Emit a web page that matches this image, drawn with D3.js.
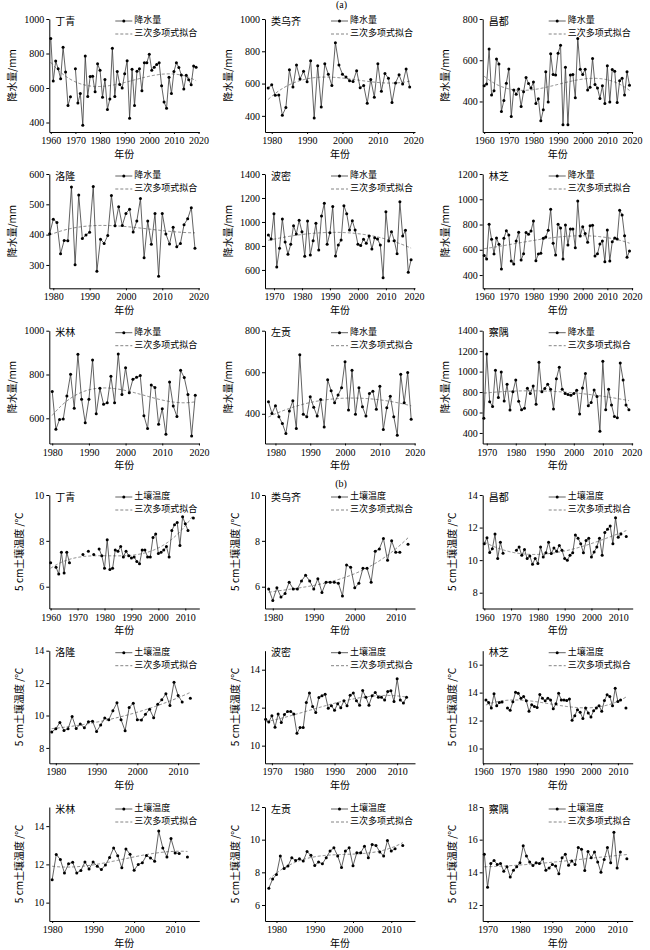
<!DOCTYPE html>
<html><head><meta charset="utf-8">
<script src="https://cdn.jsdelivr.net/npm/d3@7/dist/d3.min.js"></script>
<style>body{margin:0;background:#fff}</style></head>
<body><svg id="c" width="650" height="950"></svg>
<script>
// ---------- DATA ----------
const stations = ["丁青","类乌齐","昌都","洛隆","波密","林芝","米林","左贡","察隅"];
// (a) annual precipitation, mm
const precipStart = [1960,1979,1960,1979,1968,1960,1980,1978,1969];
const pDingqing = [887,640,756,711,654,836,693,498,549,null,711,513,568,384,785,551,666,668,578,740,703,547,650,476,537,830,551,695,621,600,683,758,425,709,498,697,711,584,746,746,795,703,721,736,746,613,519,482,662,568,695,746,719,676,594,674,648,619,728,721];
const pLeiwuqi = [572,592,527,529,404,451,685,578,715,629,676,611,742,386,711,455,723,658,588,853,715,658,640,617,613,680,574,588,478,625,516,723,553,662,633,482,604,654,597,691,578];
const pChangdu = [476,485,655,432,452,606,582,352,405,489,558,327,456,435,460,376,447,516,487,465,494,390,413,306,360,544,398,631,531,529,634,673,287,566,287,529,531,418,706,556,531,556,456,469,608,482,465,415,476,390,573,397,555,547,395,500,513,431,544,479];
const pLuolong = [403,451,440,337,381,380,557,301,531,387,399,408,559,279,385,371,397,529,429,492,430,470,484,409,445,519,324,445,368,470,263,470,402,369,424,360,371,433,452,489,355];
const pBomi = [892,858,1069,625,781,1025,833,731,814,969,900,1014,919,714,1008,725,844,989,767,1050,1156,814,910,1128,717,808,850,1136,1069,933,1011,933,814,803,856,822,883,775,869,858,808,536,1086,842,919,844,736,1169,883,931,581,686];
const pLinzhi = [554,527,802,683,567,693,643,448,691,751,717,511,488,670,738,519,569,736,722,749,828,514,567,572,691,701,754,920,651,559,802,773,527,796,638,765,765,617,986,709,783,728,659,791,794,551,569,646,670,506,757,511,664,693,685,912,875,712,540,590];
const pMilin = [722,550,595,597,702,801,646,892,687,580,687,866,621,737,664,671,792,671,894,709,831,717,778,787,795,612,553,752,741,573,644,527,766,656,608,819,786,709,519,705];
const pZuogong = [458,402,439,386,353,305,414,463,329,684,398,386,482,431,389,469,337,564,511,453,490,525,651,418,610,398,525,434,389,498,509,422,533,324,429,485,386,297,590,453,599,374];
const pChayu = [545,1172,705,660,1014,747,995,712,876,625,802,918,709,628,641,837,786,860,680,1091,802,834,876,828,635,931,1043,828,786,776,770,786,818,586,840,982,667,699,821,757,416,1101,628,828,673,561,548,1085,918,673,628];
// (b) 5 cm soil temperature, °C
const soilStart = [1960,1979,1960,1979,1968,1961,1980,1978,1969];
const tDingqing = [7.05,null,6.85,6.55,7.5,6.6,7.5,7.05,null,null,null,null,7.4,null,7.55,null,7.4,null,7.65,7.35,6.8,8.05,6.75,6.8,7.6,7.55,7.75,7.3,7.55,7.35,7.25,7.3,7.1,7.0,7.6,7.6,7.3,7.3,8.15,8.3,7.45,7.5,7.6,7.75,7.3,8.45,8.7,8.8,7.8,9.05,8.75,8.45,null,9.0];
const tLeiwuqi = [5.9,5.4,5.95,5.55,5.7,6.2,5.9,5.9,6.25,6.5,6.25,5.9,6.35,5.75,6.2,6.2,6.2,6.15,5.6,6.95,6.85,5.95,6.15,6.8,6.8,6.2,7.55,7.65,8.1,7.15,8.0,7.5,7.5,null,7.85];
const tChangdu = [11.0,11.38,10.47,10.7,11.6,10.1,11.1,10.43,null,null,null,null,10.6,10.8,10.3,10.65,10.1,10.25,9.75,10.1,9.8,10.8,10.2,10.45,11.1,10.4,10.75,10.55,10.9,10.6,10.1,10.0,10.3,10.45,11.55,11.35,11.0,10.45,11.2,11.35,10.2,10.5,10.8,11.35,10.3,11.7,11.9,12.1,11.0,12.6,11.4,11.6,null,11.45];
const tLuolong = [8.98,9.18,9.57,9.08,9.18,9.94,9.2,9.47,9.25,9.61,9.65,9.02,9.41,9.84,9.74,10.29,10.78,9.74,9.06,10.5,10.76,9.74,9.72,10.07,10.39,9.86,10.7,10.97,11.34,10.62,12.05,11.23,10.84,null,11.07];
const tBomi = [11.39,11.25,11.57,10.97,11.67,11.22,11.64,11.8,11.8,11.67,10.65,10.95,10.95,12.27,12.77,12.06,11.74,12.54,12.63,12.7,11.97,12.1,11.86,12.2,12.0,12.36,12.1,12.66,12.77,12.36,12.13,12.9,12.55,12.13,12.63,12.8,12.55,12.55,12.4,12.85,12.89,12.33,13.52,12.4,12.24,12.55];
const tLinzhi = [13.48,13.29,12.89,13.91,13.06,13.29,13.32,null,12.89,12.73,13.34,14.02,13.95,13.6,13.72,13.41,12.66,13.13,13.01,12.94,13.86,13.6,13.41,13.6,13.48,12.85,13.2,13.95,13.48,13.48,13.44,13.55,12.02,12.35,12.78,12.59,12.14,12.89,12.54,12.26,12.71,12.89,13.06,12.66,13.44,13.84,13.72,13.06,14.31,13.36,13.48,null,12.89];
const tMilin = [11.2,12.52,12.25,11.55,12.03,12.11,11.55,11.68,12.13,11.76,12.13,11.9,11.73,11.97,12.36,12.86,12.45,11.82,12.81,12.53,11.69,12.0,12.08,12.46,12.34,12.17,13.74,12.86,12.39,13.35,12.6,12.57,null,12.39];
const tZuogong = [7.03,7.59,7.86,9.0,8.23,8.38,8.9,8.73,8.83,8.69,9.27,9.04,8.42,8.63,8.52,8.9,9.3,9.5,9.0,8.3,9.3,9.5,8.4,9.2,9.2,9.6,8.9,9.7,9.65,9.25,9.0,9.95,9.3,9.45,null,9.65];
const tChayu = [15.1,13.09,14.54,14.73,14.48,14.54,14.07,14.34,13.71,14.13,14.34,14.58,15.62,15.0,14.63,14.42,14.58,14.54,14.83,14.13,14.27,14.48,14.38,13.92,14.9,15.1,14.44,14.69,14.48,15.52,15.41,14.11,15.27,14.9,15.25,14.63,14.0,14.79,15.52,14.58,16.45,14.27,15.25,null,14.83];

const precipSeries = [pDingqing,pLeiwuqi,pChangdu,pLuolong,pBomi,pLinzhi,pMilin,pZuogong,pChayu];
const soilSeries = [tDingqing,tLeiwuqi,tChangdu,tLuolong,tBomi,tLinzhi,tMilin,tZuogong,tChayu];

// tick labels
const precipYTicks = [[400,600,800,1000],[400,600,800,1000],[400,600,800],[300,400,500,600],[600,800,1000,1200,1400],[400,600,800,1000,1200],[600,800,1000],[400,600,800],[400,600,800,1000,1200,1400]];
const precipXTicks = [[1960,1970,1980,1990,2000,2010,2020],[1980,1990,2000,2010,2020],[1960,1970,1980,1990,2000,2010,2020],[1980,1990,2000,2010,2020],[1970,1980,1990,2000,2010,2020],[1960,1970,1980,1990,2000,2010,2020],[1980,1990,2000,2010,2020],[1980,1990,2000,2010,2020],[1970,1980,1990,2000,2010,2020]];
const soilYTicks = [[6,8,10],[6,8,10],[8,10,12,14],[8,10,12,14],[10,12,14],[10,12,14,16],[10,12,14],[6,8,10,12],[12,14,16,18]];
const soilXTicks = [[1960,1970,1980,1990,2000,2010],[1980,1990,2000,2010],[1960,1970,1980,1990,2000,2010],[1980,1990,2000,2010],[1970,1980,1990,2000,2010],[1960,1970,1980,1990,2000,2010],[1980,1990,2000,2010],[1980,1990,2000,2010],[1970,1980,1990,2000,2010]];

// axis domains (layout)
const precipYDom = [[345,1000],[300,1000],[252,800],[223,600],[447,1400],[295,1200],[485,1000],[257,800],[297,1400]];
const precipXDom = [[1959.4,2020.3],[1978.1,2020.5],[1959.4,2020.3],[1978.9,2020.2],[1966.8,2020.4],[1959.4,2020.3],[1979.2,2020.1],[1977,2020.1],[1968.6,2020.3]];
const soilYDom = [[5.05,10],[5.05,10],[7.03,14],[7.05,14],[9.07,15],[8.94,17],[9.04,15],[5.02,12],[11.02,18]];
const soilXDom = [[1959.5,2015.2],[1978.1,2014.7],[1959.4,2015.4],[1978.4,2015.2],[1967.8,2015.7],[1959.8,2015.5],[1979.3,2015.9],[1977,2016.2],[1968.5,2014.8]];

// ---------- LAYOUT ----------
const colX = [49.3, 265, 482.7];
const plotW = 150;
const rowsA = [[19,132],[174,288.3],[330.7,443.5]];
const rowsB = [[495,608.5],[650.7,763.3],[807,921]];
const serif = "'Liberation Serif','Times New Roman',serif";
const cjk = "'Noto Sans CJK SC','Noto Sans CJK JP',sans-serif";

const svg = d3.select("#c");

function cubicFit(pts){
  const mx = d3.mean(pts, d=>d[0]);
  const sx = (d3.max(pts,d=>d[0]) - d3.min(pts,d=>d[0]))/2 || 1;
  const A = Array.from({length:4},()=>new Array(5).fill(0));
  pts.forEach(([x,y])=>{
    const t=(x-mx)/sx; const p=[1,t,t*t,t*t*t];
    for(let i=0;i<4;i++){for(let j=0;j<4;j++)A[i][j]+=p[i]*p[j];A[i][4]+=p[i]*y;}
  });
  for(let i=0;i<4;i++){
    let m=i; for(let k=i+1;k<4;k++) if(Math.abs(A[k][i])>Math.abs(A[m][i])) m=k;
    [A[i],A[m]]=[A[m],A[i]];
    for(let k=0;k<4;k++){ if(k===i) continue; const f=A[k][i]/A[i][i]; for(let j=i;j<5;j++) A[k][j]-=f*A[i][j]; }
  }
  const c=A.map((r,i)=>r[4]/r[i]);
  return x=>{const t=(x-mx)/sx; return c[0]+c[1]*t+c[2]*t*t+c[3]*t*t*t;};
}

function panel(cfg){
  const {x0, top, bottom, xDom, yDom, xTicks, yTicks, values, start, name, seriesName, yLabel, yLabelOff} = cfg;
  const x = d3.scaleLinear().domain(xDom).range([x0, x0+plotW]);
  const y = d3.scaleLinear().domain(yDom).range([bottom, top]);
  const g = svg.append("g");
  const data = values.map((v,i)=>({yr:start+i, v}));
  const valid = data.filter(d=>d.v!=null).map(d=>[d.yr,d.v]);
  const f = cubicFit(valid);
  const fx = d3.range(valid[0][0], valid[valid.length-1][0]+0.001, 0.25);
  g.append("path").attr("d", d3.line().x(d=>x(d)).y(d=>y(f(d)))(fx))
    .attr("fill","none").attr("stroke","#777").attr("stroke-width",0.9).attr("stroke-dasharray","3,2");
  g.append("path").attr("d", d3.line().defined(d=>d.v!=null).x(d=>x(d.yr)).y(d=>y(d.v))(data))
    .attr("fill","none").attr("stroke","#3a3a3a").attr("stroke-width",0.8);
  g.selectAll("circle").data(data.filter(d=>d.v!=null)).join("circle")
    .attr("cx",d=>x(d.yr)).attr("cy",d=>y(d.v)).attr("r",1.5).attr("fill","#000");
  const ya = g.append("g").attr("transform",`translate(${x0},0)`)
    .call(d3.axisLeft(y).tickValues(yTicks).tickSize(3).tickSizeOuter(0).tickPadding(2).tickFormat(d3.format("d")));
  const xa = g.append("g").attr("transform",`translate(0,${bottom})`)
    .call(d3.axisBottom(x).tickValues(xTicks).tickSize(2).tickSizeOuter(0).tickPadding(3).tickFormat(d3.format("d")));
  [ya,xa].forEach(a=>{
    a.selectAll("text").attr("font-family",serif).attr("font-size",10).attr("fill","#000");
    a.selectAll("path,line").attr("stroke","#000").attr("stroke-width",1);
  });
  g.append("text").attr("x",x0+6).attr("y",top+3).attr("dominant-baseline","middle")
    .attr("font-family",cjk).attr("font-size",10).text(name);
  const lx = x0+66, ly1 = top+2, ly2 = top+15;
  g.append("line").attr("x1",lx).attr("x2",lx+17).attr("y1",ly1).attr("y2",ly1).attr("stroke","#3a3a3a").attr("stroke-width",0.8);
  g.append("circle").attr("cx",lx+8.5).attr("cy",ly1).attr("r",1.5).attr("fill","#000");
  g.append("text").attr("x",lx+19).attr("y",ly1).attr("dominant-baseline","middle").attr("font-family",cjk).attr("font-size",9).text(seriesName);
  g.append("line").attr("x1",lx).attr("x2",lx+17).attr("y1",ly2).attr("y2",ly2).attr("stroke","#777").attr("stroke-width",0.9).attr("stroke-dasharray","3,2");
  g.append("text").attr("x",lx+19).attr("y",ly2).attr("dominant-baseline","middle").attr("font-family",cjk).attr("font-size",9).text("三次多项式拟合");
  g.append("text").attr("transform",`translate(${x0-yLabelOff},${(top+bottom)/2}) rotate(-90)`)
    .attr("text-anchor","middle").attr("dominant-baseline","middle")
    .attr("font-family",cjk).attr("font-size",10).text(yLabel);
  g.append("text").attr("x",x0+plotW/2).attr("y",bottom+23).attr("text-anchor","middle").attr("dominant-baseline","middle")
    .attr("font-family",cjk).attr("font-size",10).text("年份");
}

for(let i=0;i<9;i++){
  const r=Math.floor(i/3), c=i%3;
  panel({x0:colX[c], top:rowsA[r][0], bottom:rowsA[r][1], xDom:precipXDom[i], yDom:precipYDom[i],
    xTicks:precipXTicks[i], yTicks:precipYTicks[i], values:precipSeries[i], start:precipStart[i],
    name:stations[i], seriesName:"降水量", yLabel:"降水量/mm", yLabelOff:36});
  panel({x0:colX[c], top:rowsB[r][0], bottom:rowsB[r][1], xDom:soilXDom[i], yDom:soilYDom[i],
    xTicks:soilXTicks[i], yTicks:soilYTicks[i], values:soilSeries[i], start:soilStart[i],
    name:stations[i], seriesName:"土壤温度", yLabel:"5 cm土壤温度 /℃", yLabelOff:29});
}
svg.append("text").attr("x",341.5).attr("y",6).attr("text-anchor","middle").attr("dominant-baseline","middle")
  .attr("font-family",serif).attr("font-size",10).text("(a)");
svg.append("text").attr("x",341).attr("y",484.5).attr("text-anchor","middle").attr("dominant-baseline","middle")
  .attr("font-family",serif).attr("font-size",10).text("(b)");
</script></body></html>
